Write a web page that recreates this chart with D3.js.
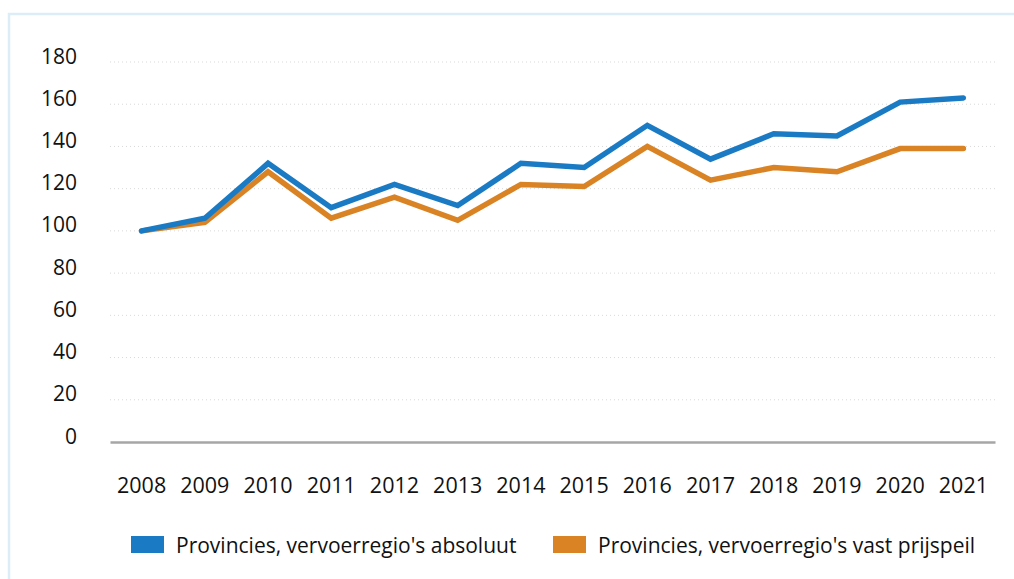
<!DOCTYPE html>
<html>
<head>
<meta charset="utf-8">
<script src="https://cdn.jsdelivr.net/npm/d3@7"></script>
<style>
    body { margin: 0; background: #fff; }
    text { font-family: "Open Sans", sans-serif; fill: #111; }
</style>
</head>
<body>
<div id="canvas"></div>
<script>
const years = ["2008", "2009", "2010", "2011", "2012", "2013", "2014", "2015", "2016", "2017", "2018", "2019", "2020", "2021"];
const absoluut = [100, 106, 132, 111, 122, 112, 132, 130, 150, 134, 146, 145, 161, 163];
const vastPrijspeil = [100, 104, 128, 106, 116, 105, 122, 121, 140, 124, 130, 128, 139, 139];
const yTicks = [0, 20, 40, 60, 80, 100, 120, 140, 160, 180];
const seriesNames = ["Provincies, vervoerregio's absoluut", "Provincies, vervoerregio's vast prijspeil"];
const colors = ["#1a7bc4", "#d98324"];

const W = 1014, H = 579;
const margin = { Top: 62, Right: 19, Bottom: 137, Left: 110 };
const width = W - margin.Left - margin.Right;
const height = H - margin.Top - margin.Bottom;

const svg = d3.select("#canvas").append("svg")
    .attr("width", W)
    .attr("height", H);

// light blue frame
svg.append("path")
    .attr("d", `M${W + 5},14 H9 V${H + 5}`)
    .attr("fill", "none")
    .attr("stroke", "#dcedf8")
    .attr("stroke-width", 2.5);

const g = svg.append("g")
    .attr("transform", `translate(${margin.Left}, ${margin.Top})`);

const x = d3.scaleBand()
    .domain(years)
    .range([0, width]);

const y = d3.scaleLinear()
    .domain([0, 180])
    .range([height, 0]);

// dotted gridlines
g.append("g")
    .selectAll("line")
    .data(yTicks.filter(d => d > 0))
    .enter().append("line")
    .attr("x1", 0)
    .attr("x2", width)
    .attr("y1", d => y(d))
    .attr("y2", d => y(d))
    .attr("stroke", "#d9d9d9")
    .attr("stroke-dasharray", "1,3");

// y labels
const yAxisCall = d3.axisLeft(y).tickValues(yTicks).tickSize(0).tickPadding(33);
g.append("g")
    .attr("class", "y axis")
    .call(yAxisCall)
    .call(s => s.select(".domain").remove())
    .selectAll("text")
    .attr("dy", "0.05em")
    .style("font-size", "21px");

// x axis
const xAxisCall = d3.axisBottom(x).tickSize(0).tickPadding(36);
g.append("g")
    .attr("class", "x axis")
    .attr("transform", `translate(0, ${height})`)
    .call(xAxisCall)
    .call(s => s.select(".domain").attr("stroke", "#a6a6a6").attr("stroke-width", 2.5))
    .selectAll("text")
    .style("font-size", "21.5px");

const line = d3.line()
    .x((d, i) => x(years[i]) + x.bandwidth() / 2)
    .y(d => y(d));

[vastPrijspeil, absoluut].forEach((vals, k) => {
    g.append("path")
        .datum(vals)
        .attr("fill", "none")
        .attr("stroke", k === 0 ? colors[1] : colors[0])
        .attr("stroke-width", 5.5)
        .attr("stroke-linecap", "round")
        .attr("d", line);
});

// legend
const legendX = [131, 553];
const legend = svg.append("g");
seriesNames.forEach((name, i) => {
    legend.append("rect")
        .attr("x", legendX[i])
        .attr("y", 536)
        .attr("width", 33)
        .attr("height", 17)
        .attr("fill", colors[i]);
    legend.append("text")
        .attr("x", legendX[i] + 45)
        .attr("y", 553)
        .style("font-size", "21px")
        .text(name);
});
</script>
</body>
</html>
